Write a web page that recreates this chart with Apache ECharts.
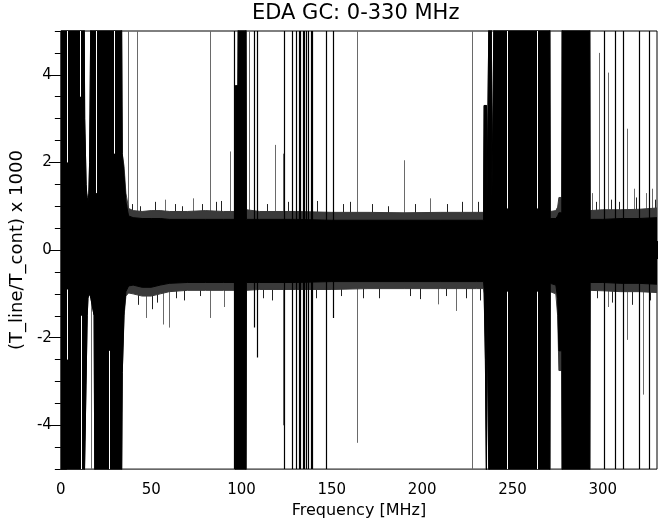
<!DOCTYPE html>
<html><head><meta charset="utf-8">
<script src="https://cdn.jsdelivr.net/npm/echarts@6/dist/echarts.min.js"></script>
<style>html,body{margin:0;padding:0;background:#fff}#c{width:664px;height:524px}</style>
</head><body><div id="c"></div>
<script>
// ---- data (MHz, (T_line/T_cont) x 1000) ----
const xMajorTicks = [0, 50, 100, 150, 200, 250, 300];
const yMajorTicks = [-4, -2, 0, 2, 4];

// envelope of the dense trace: solid core and ragged fringe
const bandFreq = [0, 12.9, 13.2, 14.0, 14.3, 14.6, 15.0, 15.5, 15.9, 16.3, 16.6, 17.5, 18.4, 18.8, 33.6, 34.0, 35.0, 36.0, 37.5, 40, 45, 50, 55, 60, 70, 80, 90, 96.4, 96.6, 98.0, 98.2, 102.5, 102.7, 110, 130, 150, 170, 190, 210, 230, 234.0, 234.3, 235.0, 235.6, 235.8, 236.8, 237.0, 238.3, 238.5, 239.6, 239.8, 270.7, 270.9, 274.0, 275.0, 275.7, 277.3, 277.5, 292.8, 293.0, 300, 310, 320, 330];
const coreHi = [5.5, 5.5, 3.0, 1.5, 1.3, 1.2, 1.1, 1.3, 2.0, 4.0, 5.5, 5.5, 5.5, 5.5, 5.5, 2.2, 1.7, 1.1, 0.78, 0.74, 0.72, 0.72, 0.72, 0.7, 0.7, 0.7, 0.7, 0.7, 3.75, 3.75, 5.5, 5.5, 0.7, 0.7, 0.7, 0.68, 0.68, 0.68, 0.68, 0.68, 0.68, 3.3, 3.3, 3.3, 0.72, 0.72, 5.5, 5.5, 0.72, 0.72, 5.5, 5.5, 0.72, 0.72, 0.78, 0.85, 0.85, 5.5, 5.5, 0.7, 0.7, 0.72, 0.72, 0.74];
const coreLo = [-5.5, -5.5, -5.5, -5.5, -5.5, -1.5, -1.1, -1.0, -1.0, -1.05, -1.1, -1.1, -1.5, -5.5, -5.5, -2.8, -1.4, -0.95, -0.82, -0.8, -0.85, -0.85, -0.8, -0.76, -0.74, -0.74, -0.74, -0.74, -5.5, -5.5, -5.5, -5.5, -0.74, -0.74, -0.74, -0.72, -0.72, -0.72, -0.72, -0.72, -0.72, -0.9, -2.5, -5.5, -0.9, -0.9, -5.5, -5.5, -5.5, -5.5, -5.5, -5.5, -0.76, -0.8, -1.1, -2.3, -2.3, -5.5, -5.5, -0.74, -0.74, -0.76, -0.76, -0.78];
const fringeHi = [5.5, 5.5, 3.0, 1.5, 1.3, 1.2, 1.1, 1.3, 2.0, 4.0, 5.5, 5.5, 5.5, 5.5, 5.5, 2.2, 1.9, 1.3, 0.95, 0.9, 0.88, 0.9, 0.9, 0.88, 0.88, 0.9, 0.88, 0.88, 3.75, 3.75, 5.5, 5.5, 0.92, 0.88, 0.88, 0.86, 0.86, 0.85, 0.86, 0.86, 0.86, 3.3, 3.3, 3.3, 0.88, 0.88, 5.5, 5.5, 0.88, 0.88, 5.5, 5.5, 0.88, 0.9, 0.98, 1.2, 1.2, 5.5, 5.5, 0.9, 0.92, 0.92, 0.93, 0.96];
const fringeLo = [-5.5, -5.5, -5.5, -5.5, -5.5, -1.5, -1.1, -1.0, -1.0, -1.05, -1.1, -1.1, -1.5, -5.5, -5.5, -2.8, -1.5, -1.05, -0.98, -1.0, -1.05, -1.05, -1.0, -0.95, -0.92, -0.92, -0.92, -0.92, -5.5, -5.5, -5.5, -5.5, -0.92, -0.9, -0.9, -0.9, -0.88, -0.88, -0.88, -0.88, -0.88, -1.0, -2.5, -5.5, -1.0, -1.0, -5.5, -5.5, -5.5, -5.5, -5.5, -5.5, -0.95, -1.0, -1.5, -2.75, -2.75, -5.5, -5.5, -0.92, -0.93, -0.95, -0.95, -0.97];

// small protrusions along the edge of the band
const edgeFreq = [39.5, 44, 52, 63, 67, 78, 86, 88.5, 114, 126, 142, 156, 160, 172, 181, 196, 214, 222, 231, 296, 304.5, 309, 318.5, 329, 42.5, 50.5, 53, 64, 68, 77, 112, 117, 141, 155, 167, 176, 193, 199, 213, 224, 232, 297, 305, 316, 326];
const edgeHi = [1.05, 1.0, 1.1, 1.05, 1.0, 1.05, 1.1, 1.12, 1.05, 1.1, 1.12, 1.05, 1.1, 1.05, 1.0, 1.05, 1.05, 1.1, 1.1, 1.1, 1.15, 1.1, 1.2, 1.15, 0, 0, 0, 0, 0, 0, 0, 0, 0, 0, 0, 0, 0, 0, 0, 0, 0, 0, 0, 0, 0];
const edgeLo = [0, 0, 0, 0, 0, 0, 0, 0, 0, 0, 0, 0, 0, 0, 0, 0, 0, 0, 0, 0, 0, 0, 0, 0, -1.25, -1.35, -1.2, -1.1, -1.15, -1.05, -1.1, -1.15, -1.1, -1.05, -1.1, -1.1, -1.05, -1.12, -1.05, -1.1, -1.15, -1.1, -1.2, -1.25, -1.15];

// strong interference lines
const spikeFreq = [95.7, 106.7, 108.5, 123.4, 127.8, 130.4, 131.7, 132.3, 133.9, 134.6, 135.8, 136.6, 138.2, 138.8, 146.6, 150.4, 300.8, 306.5, 311.0, 320.2, 325.5];
const spikeHi = [5.5, 5.5, 5.5, 5.5, 5.5, 5.5, 5.5, 5.5, 5.5, 5.5, 5.5, 5.5, 5.5, 5.5, 5.5, 5.5, 5.5, 5.5, 5.5, 5.5, 5.5];
const spikeLo = [-5.5, -1.77, -2.45, -5.5, -5.5, -5.5, -5.5, -5.5, -5.5, -5.5, -5.5, -5.5, -5.5, -5.5, -5.5, -1.55, -5.5, -5.5, -5.5, -5.5, -5.5];

// weaker single-channel spikes
const faintFreq = [16.5, 36.9, 41.9, 47.0, 56.6, 57.7, 59.9, 73.1, 82.8, 90.2, 93.7, 104.0, 118.5, 122.9, 164.2, 189.9, 204.6, 208.6, 218.7, 227.4, 239.0, 294.0, 298.0, 303.0, 313.5, 317.0, 322.5, 324.0, 327.5];
const faintHi = [0, 5.5, 5.5, 0, 0, 1.15, 0, 1.18, 5.5, 0, 2.25, 5.5, 2.4, 2.2, 5.5, 2.05, 1.18, 0, 0, 5.5, 3.0, 1.3, 4.5, 4.05, 2.77, 1.4, 0, 1.3, 1.4];
const faintLo = [-5.5, 0, 0, -1.55, -1.7, 0, -1.77, 0, -1.55, -1.3, 0, -0.9, 0, -4.0, -4.4, 0, 0, -1.24, -1.39, -5.5, 0, 0, 0, -1.3, -2.05, 0, -3.3, 0, 0];

// empty slits inside the interference blocks
const gapFreq = [3.6, 10.6, 19.5, 29.6, 3.6, 10.9, 26.7, 247.2, 247.2, 263.7, 263.7];
const gapHi = [5.5, 5.5, 5.5, 5.5, -0.9, -1.5, -2.3, 5.5, -0.95, 5.5, -0.95];
const gapLo = [2.0, 3.5, 1.3, 2.2, -2.5, -5.5, -5.5, 0.95, -5.5, 0.95, -5.5];

// ---- chart ----
const FONT = 'DejaVu Sans';
const chart = echarts.init(document.getElementById('c'), null, {renderer: 'canvas'});

function areaSeries(vals, color, z) {
  return {
    type: 'line', xAxisIndex: 0, yAxisIndex: 0, z: z, silent: true, animation: false,
    symbol: 'none', showSymbol: false,
    data: bandFreq.map((f, i) => [f, vals[i]]),
    lineStyle: {color: color, width: 1},
    areaStyle: {color: color, opacity: 1, origin: 'auto'}
  };
}
function segSeries(freq, hi, lo, color, width, z) {
  return {
    type: 'custom', xAxisIndex: 0, yAxisIndex: 0, z: z, silent: true, animation: false,
    data: freq.map((f, i) => [f, hi[i], lo[i]]),
    encode: {x: 0, y: [1, 2]},
    renderItem: function (params, api) {
      const f = api.value(0);
      const a = api.coord([f, Math.min(5, api.value(1))]);
      const b = api.coord([f, Math.max(-5, api.value(2))]);
      const x = Math.round(a[0]) + 0.5;
      return {type: 'line', shape: {x1: x, y1: a[1], x2: x, y2: b[1]},
              style: {stroke: color, lineWidth: width}};
    }
  };
}
function xAx(pos, interval, len, labels) {
  return {
    type: 'value', min: 0, max: 330, interval: interval, position: pos,
    axisLine: {show: false}, splitLine: {show: false},
    axisTick: {show: true, inside: true, length: len, lineStyle: {color: '#000', width: 1}},
    axisLabel: labels ? {show: true, color: '#000', fontSize: 15, fontFamily: FONT, margin: 14,
                         customValues: xMajorTicks} : {show: false},
    name: labels ? 'Frequency [MHz]' : '', nameLocation: 'middle', nameGap: 30,
    nameTextStyle: {color: '#000', fontSize: 16, fontFamily: FONT}
  };
}
function yAx(pos, major, labels) {
  const ax = {
    type: 'value', min: -5, max: 5, position: pos,
    axisLine: {show: false}, splitLine: {show: false},
    axisTick: {show: true, inside: true, length: major ? 12 : 6, lineStyle: {color: '#000', width: 1}},
    axisLabel: labels ? {show: true, color: '#000', fontSize: 15, fontFamily: FONT, margin: 9,
                         customValues: yMajorTicks} : {show: false},
    name: labels ? '(T_line/T_cont) x 1000' : '', nameLocation: 'middle', nameGap: 31, nameRotate: 90,
    nameTextStyle: {color: '#000', fontSize: 18, fontFamily: FONT}
  };
  if (major) ax.axisTick.customValues = yMajorTicks; else ax.interval = 0.5;
  return ax;
}

chart.setOption({
  animation: false,
  backgroundColor: '#fff',
  title: {text: 'EDA GC: 0-330 MHz', left: 252, top: 3, padding: 0,
          textStyle: {fontSize: 21, fontWeight: 'normal', color: '#000', fontFamily: FONT}},
  grid: {left: 58, right: 7, top: 31, bottom: 52, show: true, borderColor: '#000', borderWidth: 1,
         backgroundColor: 'transparent', containLabel: false},
  xAxis: [xAx('bottom', 50, 9, true), xAx('bottom', 10, 4.5, false), xAx('top', 50, 9, false), xAx('top', 10, 4.5, false)],
  yAxis: [yAx('left', true, true), yAx('left', false, false), yAx('right', true, false), yAx('right', false, false)],
  series: [
    segSeries(faintFreq, faintHi, faintLo, '#6a6a6a', 1, 1),
    segSeries(edgeFreq, edgeHi, edgeLo, '#222', 1, 1),
    areaSeries(fringeHi, '#3a3a3a', 2),
    areaSeries(fringeLo, '#3a3a3a', 2),
    areaSeries(coreHi, '#000', 3),
    areaSeries(coreLo, '#000', 3),
    segSeries(gapFreq, gapHi, gapLo, '#fff', 1, 4),
    segSeries(spikeFreq, spikeHi, spikeLo, '#000', 1.2, 6)
  ]
});
</script>
</body></html>
